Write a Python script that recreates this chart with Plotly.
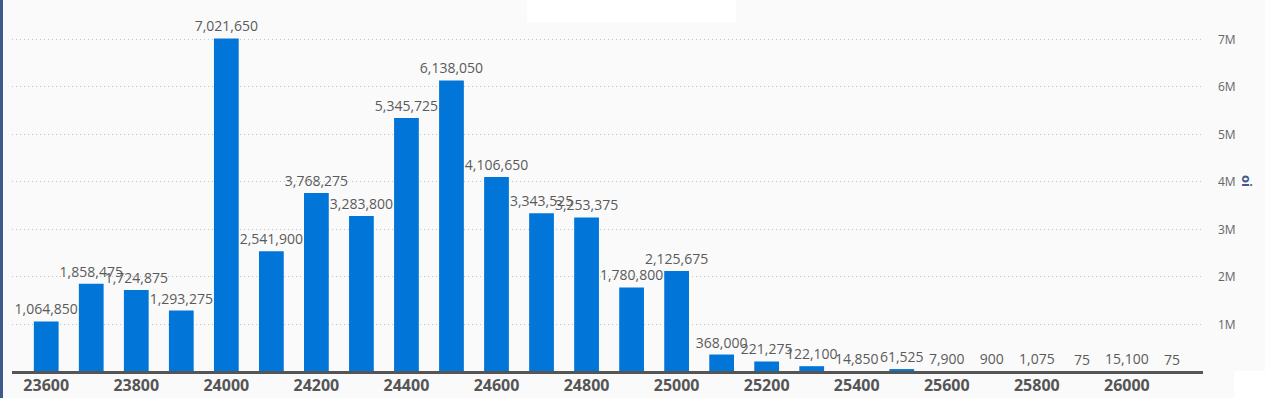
import plotly.graph_objects as go

strikes = [23600, 23700, 23800, 23900, 24000, 24100, 24200, 24300, 24400, 24500,
           24600, 24700, 24800, 24900, 25000, 25100, 25200, 25300, 25400, 25500,
           25600, 25700, 25800, 25900, 26000, 26100]
oi = [1064850, 1858475, 1724875, 1293275, 7021650, 2541900, 3768275, 3283800, 5345725, 6138050,
      4106650, 3343525, 3253375, 1780800, 2125675, 368000, 221275, 122100, 14850, 61525,
      7900, 900, 1075, 75, 15100, 75]
x_ticks = [23600, 23800, 24000, 24200, 24400, 24600, 24800, 25000, 25200, 25400, 25600, 25800, 26000]
y_ticks = [1e6, 2e6, 3e6, 4e6, 5e6, 6e6, 7e6]
y_tick_text = ["1M", "2M", "3M", "4M", "5M", "6M", "7M"]

W, H = 1265, 398
L, R, T, B = 12, 1203, 0, 372
pw, ph = R - L, B - T


def px(x):
    return (x - L) / pw


def py(y):
    return 1 - (y - T) / ph


fig = go.Figure()
fig.add_trace(go.Bar(
    x=strikes, y=oi, width=55,
    marker=dict(color="#0275D8", line=dict(width=0)),
    texttemplate="%{y:,}", textposition="outside", constraintext="none",
    cliponaxis=False,
    textfont=dict(family="Open Sans", size=14, color="#5a5a5a"),
    hoverinfo="x+y",
))

fig.update_layout(
    width=W, height=H,
    margin=dict(l=L, r=W - R, t=T, b=H - B, autoexpand=False),
    paper_bgcolor="#fafafa", plot_bgcolor="#fafafa",
    showlegend=False, bargap=0.45,
    font=dict(family="Open Sans", color="#555555"),
    xaxis=dict(
        range=[23524, 26169], tickvals=x_ticks, tickformat="d",
        tickfont=dict(family="Open Sans", size=16, color="#555555", weight="bold"),
        showgrid=False, zeroline=False, showline=False,
        ticks="", ticklabelstandoff=2,
    ),
    yaxis=dict(
        side="right", range=[0, 7.83e6],
        tickvals=y_ticks, ticktext=y_tick_text,
        tickfont=dict(family="Open Sans", size=12, color="#666666"),
        showgrid=True, gridcolor="#c4c4c4", griddash="1px,3px", gridwidth=1,
        zeroline=False, showline=False,
        ticks="", ticklabelstandoff=14,
    ),
    shapes=[
        dict(type="rect", xref="paper", yref="paper",
             x0=px(527), x1=px(736), y0=py(22), y1=py(0),
             fillcolor="#ffffff", line=dict(width=0), layer="below"),
        dict(type="rect", xref="paper", yref="paper",
             x0=px(1234), x1=px(1265), y0=py(398), y1=py(371),
             fillcolor="#ffffff", line=dict(width=0)),
        dict(type="rect", xref="paper", yref="paper",
             x0=px(0), x1=px(3), y0=py(398), y1=py(0),
             fillcolor="#41598a", line=dict(width=0)),
        dict(type="line", xref="paper", yref="paper",
             x0=0, x1=1, y0=py(372.5), y1=py(372.5),
             line=dict(color="#555555", width=3), layer="above"),
    ],
    annotations=[
        dict(text="<b>oi</b>", xref="paper", yref="paper",
             x=px(1247), y=py(181), showarrow=False, textangle=90,
             font=dict(family="Open Sans", size=13, color="#41598a"),
             xanchor="center", yanchor="middle"),
    ],
)

fig.write_html("out.html", config={"displayModeBar": False},
               post_script="document.body.style.margin='0';document.body.style.overflow='hidden';")
